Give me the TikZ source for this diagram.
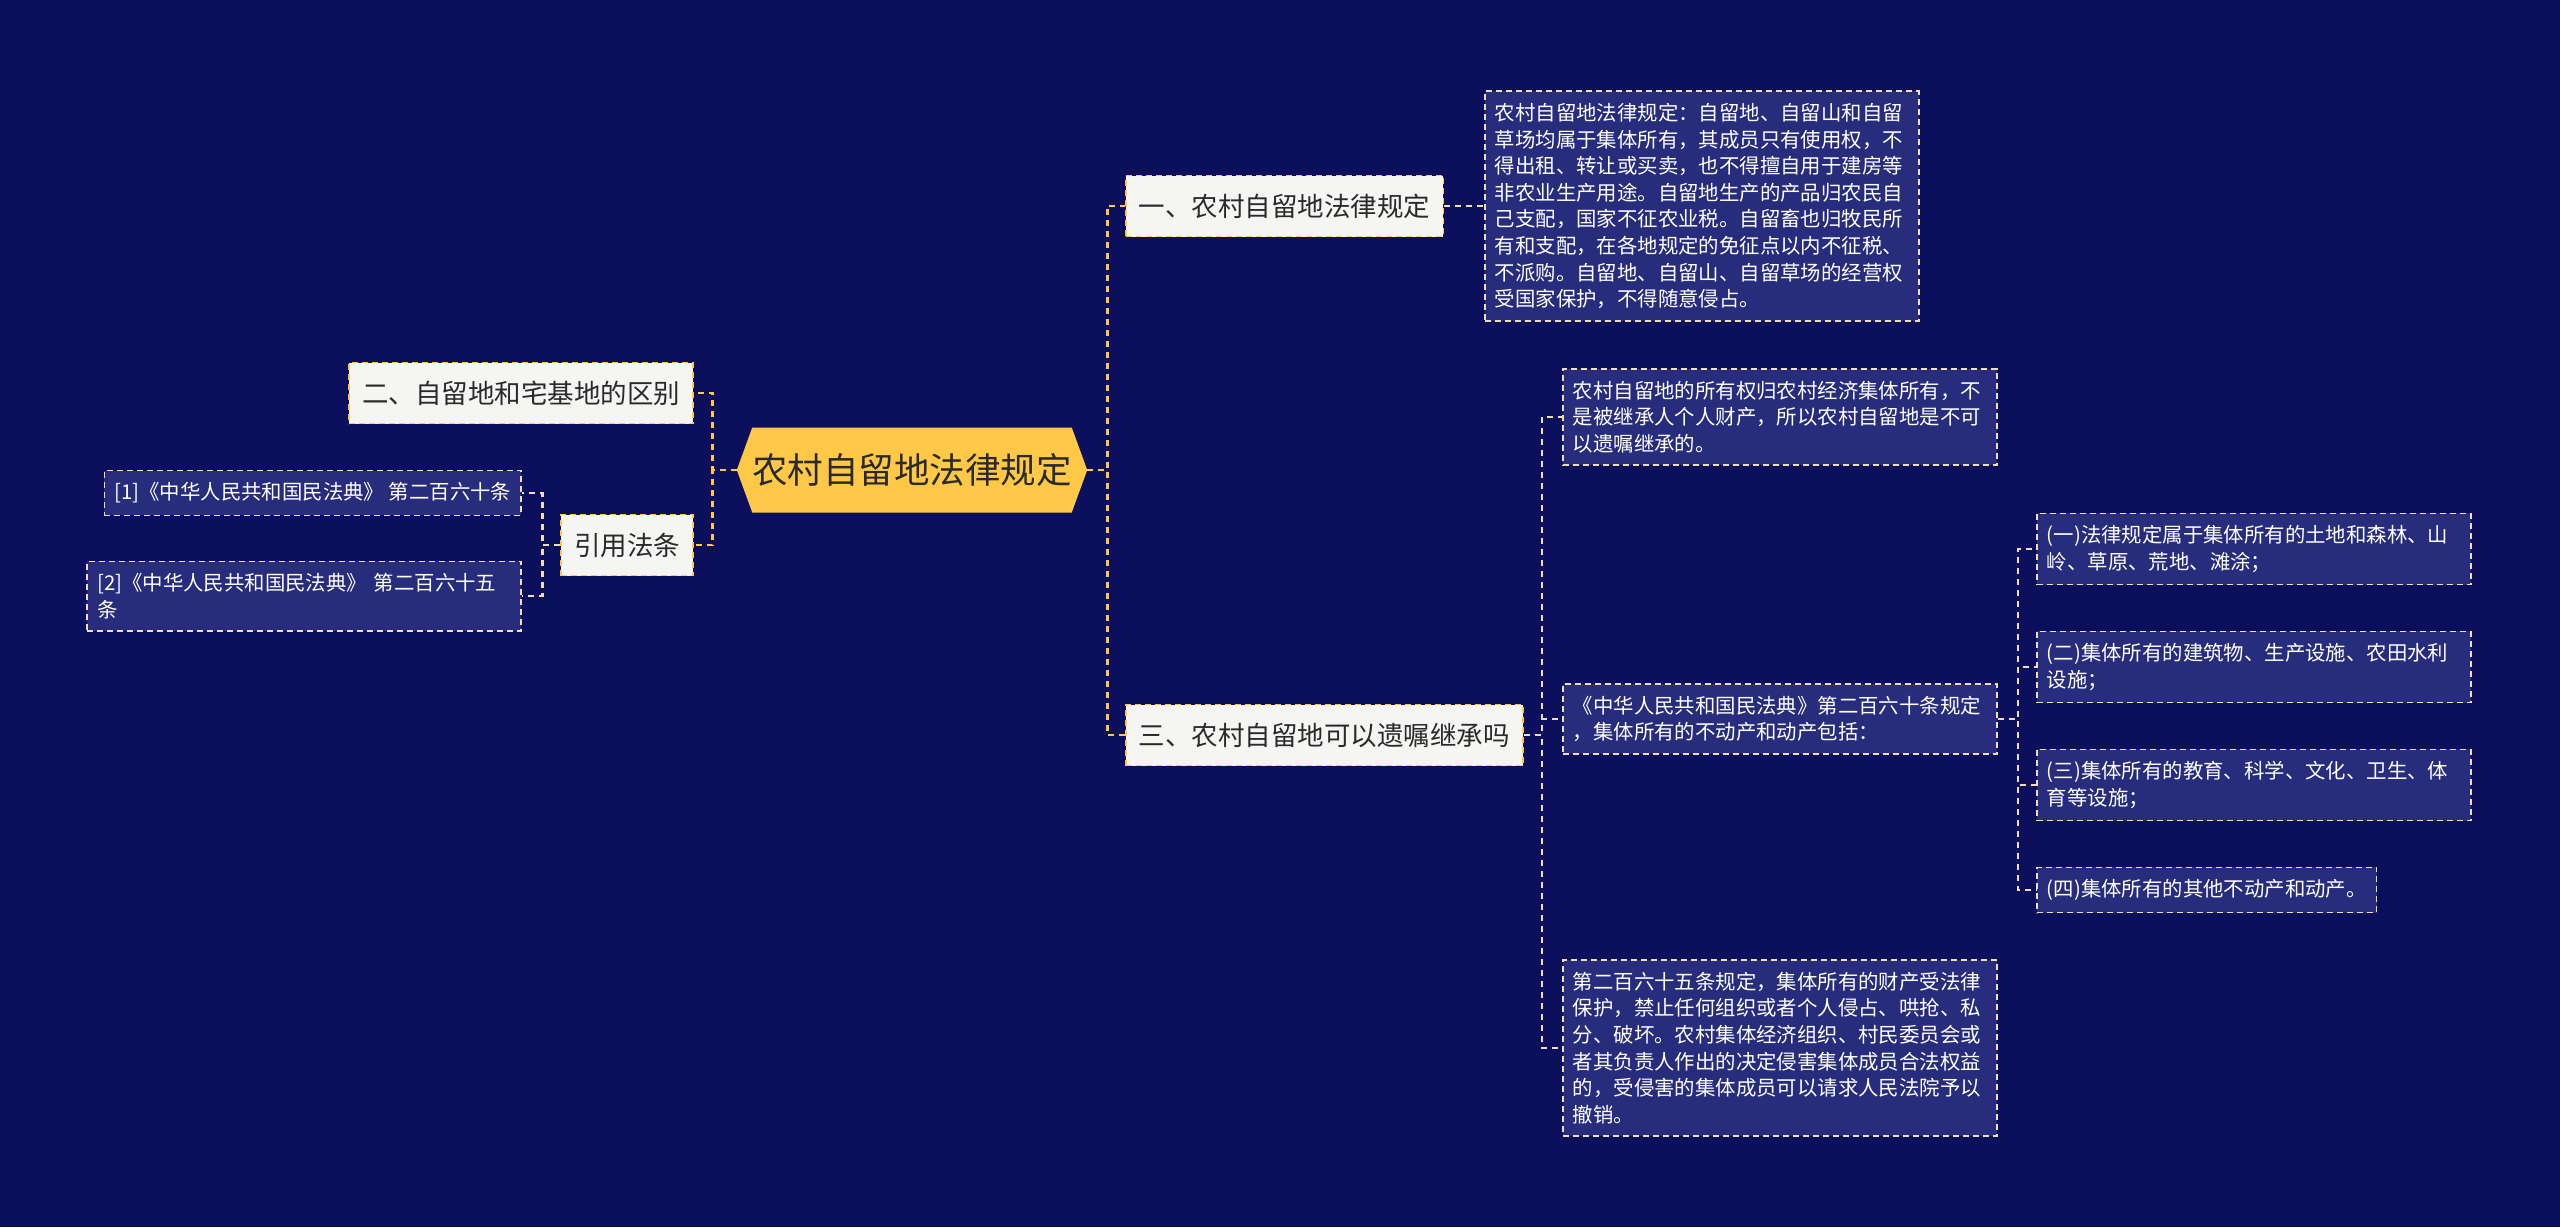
\documentclass[tikz,border=0pt]{standalone}
\usepackage{fontspec}
\setmainfont{Noto Sans CJK SC}
\usepackage{tikz}
\usetikzlibrary{positioning,shapes.symbols}
\definecolor{night}{HTML}{0C0F5C}
\definecolor{leaf}{HTML}{272C7C}
\definecolor{gold}{HTML}{FFC947}
\definecolor{cream}{HTML}{F0DDB2}
\definecolor{paper}{HTML}{F5F5F4}
\definecolor{ink}{HTML}{2A2A2A}
\tikzset{link/.style={draw=gold,line width=2.2pt,dash pattern=on 6pt off 5pt},
  sublink/.style={link,draw=cream},
  rootbox/.style={shape=signal,signal to=west and east,signal pointer angle=140,fill=gold,text=ink,
    font=\fontsize{35.5}{42}\selectfont,inner sep=0pt,minimum height=85pt},
  topicbox/.style={draw=gold,fill=paper,line width=1.6pt,dash pattern=on 6pt off 4pt,text=ink,
    font=\fontsize{26.5}{32}\selectfont,inner xsep=13pt,minimum height=61pt},
  leafbox/.style={draw=cream,fill=leaf,line width=1.6pt,dash pattern=on 6pt off 4pt,text=white,
    font=\fontsize{20.4}{26.6}\selectfont,align=left,inner xsep=10pt,inner ysep=12pt},
  wideleaf/.style={leafbox,text width=414pt}}

\begin{document}
\begin{tikzpicture}[x=1pt,y=-1pt]
\fill[night] (0,0) rectangle (2560,1227);
\useasboundingbox (0,0) rectangle (2560,1227);
\node[rootbox] (root) at (912,470) {农村自留地法律规定};
\node[topicbox,anchor=west] (one) at (1125,206) {一、农村自留地法律规定};
\node[topicbox,anchor=west] (three) at (1125,735) {三、农村自留地可以遗嘱继承吗};
\node[topicbox,anchor=east] (two) at (694,393) {二、自留地和宅基地的区别};
\node[topicbox,anchor=east] (cite) at (694,545) {引用法条};
\node[wideleaf,anchor=west] (rule) at (1484,206) {农村自留地法律规定：自留地、自留山和自留\\草场均属于集体所有，其成员只有使用权，不\\得出租、转让或买卖，也不得擅自用于建房等\\非农业生产用途。自留地生产的产品归农民自\\己支配，国家不征农业税。自留畜也归牧民所\\有和支配，在各地规定的免征点以内不征税、\\不派购。自留地、自留山、自留草场的经营权\\受国家保护，不得随意侵占。};
\node[wideleaf,anchor=west] (owner) at (1562,417) {农村自留地的所有权归农村经济集体所有，不\\是被继承人个人财产，所以农村自留地是不可\\以遗嘱继承的。};
\node[wideleaf,anchor=west] (article) at (1562,719) {《中华人民共和国民法典》第二百六十条规定\\，集体所有的不动产和动产包括：};
\node[wideleaf,anchor=west] (protect) at (1562,1048) {第二百六十五条规定，集体所有的财产受法律\\保护，禁止任何组织或者个人侵占、哄抢、私\\分、破坏。农村集体经济组织、村民委员会或\\者其负责人作出的决定侵害集体成员合法权益\\的，受侵害的集体成员可以请求人民法院予以\\撤销。};
\node[wideleaf,anchor=west] (land) at (2036,549) {(一)法律规定属于集体所有的土地和森林、山\\岭、草原、荒地、滩涂；};
\node[wideleaf,anchor=west] (build) at (2036,667) {(二)集体所有的建筑物、生产设施、农田水利\\设施；};
\node[wideleaf,anchor=west] (edu) at (2036,785) {(三)集体所有的教育、科学、文化、卫生、体\\育等设施；};
\node[leafbox,anchor=west] (other) at (2036,890) {(四)集体所有的其他不动产和动产。};
\node[leafbox,anchor=east] (refa) at (522,493) {[1]《中华人民共和国民法典》 第二百六十条};
\node[wideleaf,anchor=east] (refb) at (522,596) {[2]《中华人民共和国民法典》 第二百六十五\\条};
% root branches
\draw[link] (root.east) -- ++(20,0) |- (one.west);
\draw[link] (root.east) -- ++(20,0) |- (three.west);
\draw[link] (root.west) -- ++(-24,0) |- (two.east);
\draw[link] (root.west) -- ++(-24,0) |- (cite.east);
% second level
\draw[sublink] (one.east) -- ++(20,0) |- (rule.west);
\draw[sublink] (three.east) -- ++(18,0) |- (owner.west);
\draw[sublink] (three.east) -- ++(18,0) |- (article.west);
\draw[sublink] (three.east) -- ++(18,0) |- (protect.west);
\draw[sublink] (cite.west) -- ++(-18,0) |- (refa.east);
\draw[sublink] (cite.west) -- ++(-18,0) |- (refb.east);
\foreach \item in {land,build,edu,other}
  \draw[sublink] (article.east) -- ++(20,0) |- (\item.west);
\end{tikzpicture}
\end{document}
